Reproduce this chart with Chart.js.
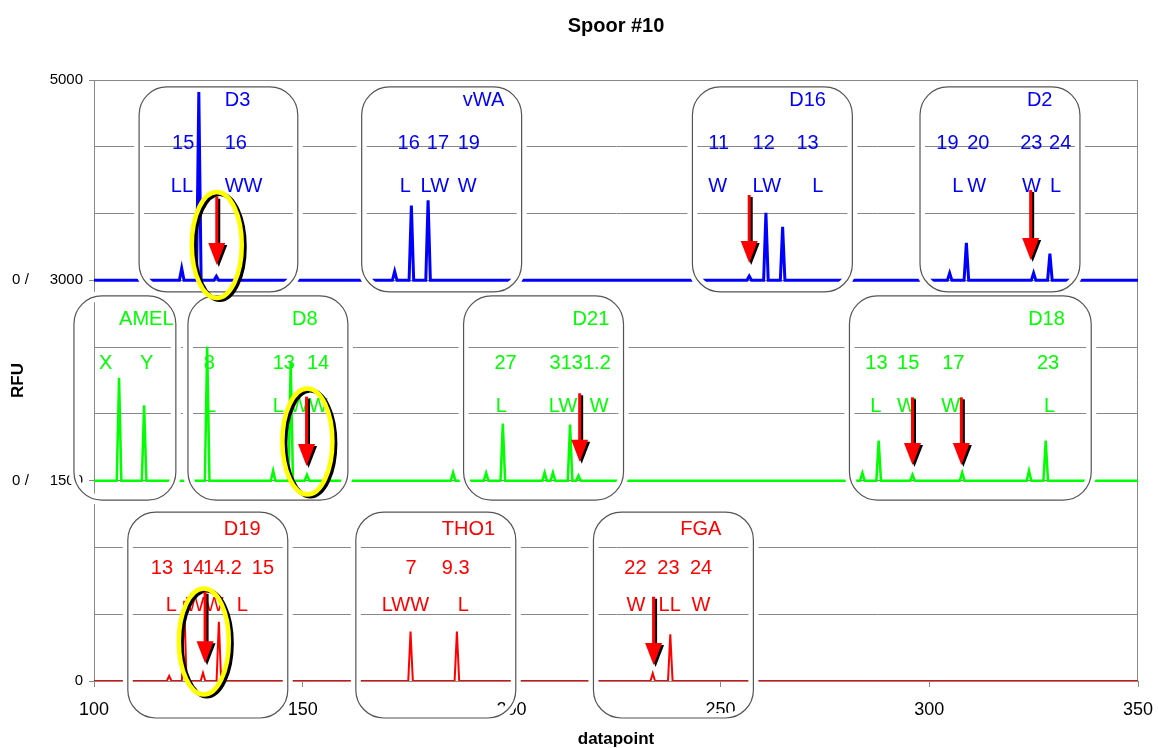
<!DOCTYPE html>
<html>
<head>
<meta charset="utf-8">
<title>Spoor #10</title>
<script src="https://cdn.jsdelivr.net/npm/chart.js@4.4.1/dist/chart.umd.min.js"></script>
<style>
  body { margin: 0; background: #fff; overflow: hidden; }
  #wrap { width: 1158px; height: 748px; }
</style>
</head>
<body>
<div id="wrap"><canvas id="spoor"></canvas></div>
<script>
// pieken per kleur: positie (datapoint) en hoogte (RFU binnen het paneel)
var bluePeakPos = [121.0, 125.1, 129.3, 172.0, 176.0, 180.0, 256.9, 260.9, 264.9, 304.9, 308.9, 325.0, 328.9];
var bluePeakRfu = [90, 1410, 30, 67, 560, 600, 32, 505, 400, 55, 280, 55, 200];

var greenPeakPos = [106.0, 112.0, 127.1, 142.9, 147.1, 151.0, 186.0, 193.9, 197.9, 207.9, 209.9, 214.0, 216.0, 284.0, 287.9, 296.0, 307.9, 323.9, 327.9];
var greenPeakRfu = [770, 565, 1005, 75, 893, 45, 60, 58, 427, 60, 60, 420, 38, 58, 300, 45, 60, 75, 300];

var redPeakPos = [118.0, 121.6, 126.1, 129.9, 175.8, 186.9, 233.8, 238.0];
var redPeakRfu = [38, 600, 60, 444, 370, 370, 58, 350];

// basislijn van elk paneel (blauw, groen, rood)
var panelBase = [3000, 1500, 0];
var dyeColors = ['#0000ff', '#00ff00', '#ff0000'];

// labels op de y-as
var yTickValues = [0, 1500, 3000, 4500];
var yTickLabels = ['0', '0 /     1500', '0 /     3000', '5000'];

// locus-kaders: [van, tot, paneel]
var lociBoxes = [
  [110.8, 148.8, 0], [164.1, 202.4, 0], [243.3, 281.6, 0], [297.8, 336.1, 0],
  [95.2, 119.6, 1], [122.5, 160.8, 1], [188.5, 226.8, 1], [280.9, 338.8, 1],
  [108.1, 146.4, 2], [162.7, 201.0, 2], [219.6, 257.9, 2]
];
var boxRows = [[4448, 2913], [2883, 1355], [1265, -277]];

// teksten: [paneel, regel (0 locus, 1 allelen, 2 letters), x, tekst]
var textRows = [[4350, 4028, 3699], [2710, 2381, 2052], [1131, 846, 569]];
var lociTexts = [
  [0, 0, 131.3, 'D3'], [0, 1, 118.7, '15'], [0, 1, 131.3, '16'], [0, 2, 118.4, 'LL'], [0, 2, 131.3, 'WW'],
  [0, 0, 188.3, 'vWA'], [0, 1, 172.7, '16'], [0, 1, 179.7, '17'], [0, 1, 187.1, '19'],
  [0, 2, 173.2, 'L'], [0, 2, 178.2, 'LW'], [0, 2, 187.1, 'W'],
  [0, 0, 266.5, 'D16'], [0, 1, 247.1, '11'], [0, 1, 257.7, '12'], [0, 1, 268.2, '13'],
  [0, 2, 247.1, 'W'], [0, 2, 257.7, 'LW'], [0, 2, 272.0, 'L'],
  [0, 0, 323.4, 'D2'], [0, 1, 301.7, '19'], [0, 1, 309.1, '20'], [0, 1, 321.8, '23'], [0, 1, 328.7, '24'],
  [0, 2, 305.5, 'L'], [0, 2, 309.1, 'W'], [0, 2, 322.2, 'W'], [0, 2, 328.9, 'L'],

  [1, 0, 106.0, 'AMEL'], [1, 1, 101.2, 'X'], [1, 1, 111.0, 'Y'],
  [1, 0, 147.4, 'D8'], [1, 1, 126.3, '8'], [1, 1, 142.8, '13'], [1, 1, 151.0, '14'],
  [1, 2, 126.6, 'L'], [1, 2, 142.8, 'L'], [1, 2, 146.9, 'WW'],
  [1, 0, 214.6, 'D21'], [1, 1, 195.9, '27'], [1, 1, 209.1, '3131.2'],
  [1, 2, 196.2, 'L'], [1, 2, 208.9, 'LW'], [1, 2, 218.7, 'W'],
  [1, 0, 323.7, 'D18'], [1, 1, 284.7, '13'], [1, 1, 292.3, '15'], [1, 1, 303.1, '17'], [1, 1, 325.8, '23'],
  [1, 2, 285.9, 'L'], [1, 2, 292.3, 'W'], [1, 2, 302.9, 'W'], [1, 2, 327.5, 'L'],

  [2, 0, 131.1, 'D19'], [2, 1, 113.6, '13'], [2, 1, 121.1, '14'], [2, 1, 126.1, '14.2'], [2, 1, 137.8, '15'],
  [2, 2, 117.2, 'L'], [2, 2, 122.0, 'WW'], [2, 2, 134.2, 'L'],
  [2, 0, 183.3, 'THO1'], [2, 1, 174.6, '7'], [2, 1, 183.3, '9.3'], [2, 2, 168.9, 'LWW'], [2, 2, 187.1, 'L'],
  [2, 0, 240.4, 'FGA'], [2, 1, 227.0, '22'], [2, 1, 234.9, '23'], [2, 1, 242.7, '24'],
  [2, 2, 227.5, 'W'], [2, 2, 235.2, 'LL'], [2, 2, 243.1, 'W']
];

// pijlen: [x, boven, punt] en ellipsen: [x, y]
var arrows = [
  [129.4, 3626, 3115], [256.9, 3639, 3130], [324.3, 3676, 3152],
  [150.9, 2129, 1610], [216.3, 2154, 1642], [296.0, 2124, 1617], [307.7, 2124, 1617],
  [126.6, 668, 132], [234.0, 631, 120]
];
var ellipses = [[129.4, 3265], [151.1, 1793], [126.3, 296]];

function buildTrace(pos, rfu, base) {
  var pts = [{x: 100, y: base}];
  for (var i = 0; i < pos.length; i++) {
    pts.push({x: pos[i] - 0.55, y: base});
    pts.push({x: pos[i], y: base + rfu[i]});
    pts.push({x: pos[i] + 0.55, y: base});
  }
  pts.push({x: 350, y: base});
  return pts;
}

function roundRectPath(ctx, x, y, w, h, r) {
  ctx.beginPath();
  ctx.moveTo(x + r, y);
  ctx.arcTo(x + w, y, x + w, y + h, r);
  ctx.arcTo(x + w, y + h, x, y + h, r);
  ctx.arcTo(x, y + h, x, y, r);
  ctx.arcTo(x, y, x + w, y, r);
  ctx.closePath();
}

function drawArrow(ctx, x, y1, y2, color, dx, dy) {
  ctx.strokeStyle = color;
  ctx.fillStyle = color;
  ctx.lineWidth = 3;
  ctx.beginPath();
  ctx.moveTo(x + dx, y1 + dy);
  ctx.lineTo(x + dx, y2 - 16 + dy);
  ctx.stroke();
  ctx.beginPath();
  ctx.moveTo(x - 8.5 + dx, y2 - 22 + dy);
  ctx.lineTo(x + 8.5 + dx, y2 - 22 + dy);
  ctx.lineTo(x + dx, y2 + dy);
  ctx.closePath();
  ctx.fill();
}

var frame = {
  id: 'frame',
  beforeDatasetsDraw: function(chart) {
    var a = chart.chartArea, ctx = chart.ctx;
    ctx.save();
    ctx.strokeStyle = '#888';
    ctx.lineWidth = 1;
    ctx.beginPath();
    ctx.moveTo(a.left, a.top + 0.5);
    ctx.lineTo(a.right - 0.5, a.top + 0.5);
    ctx.lineTo(a.right - 0.5, a.bottom);
    ctx.stroke();
    ctx.restore();
  }
};

var annotations = {
  id: 'annotations',
  afterDatasetsDraw: function(chart) {
    var ctx = chart.ctx, xs = chart.scales.x, ys = chart.scales.y;
    ctx.save();
    // kaders: eerst de witte rand, dan de grijze lijn
    var rects = lociBoxes.map(function(b) {
      var x1 = xs.getPixelForValue(b[0]), x2 = xs.getPixelForValue(b[1]);
      var y1 = ys.getPixelForValue(boxRows[b[2]][0]), y2 = ys.getPixelForValue(boxRows[b[2]][1]);
      return [x1, y1, x2 - x1, y2 - y1];
    });
    ctx.strokeStyle = '#fff';
    ctx.lineWidth = 10;
    rects.forEach(function(r) { roundRectPath(ctx, r[0], r[1], r[2], r[3], 28); ctx.stroke(); });
    ctx.strokeStyle = '#555';
    ctx.lineWidth = 1.2;
    rects.forEach(function(r) { roundRectPath(ctx, r[0], r[1], r[2], r[3], 28); ctx.stroke(); });

    // teksten
    ctx.font = '20px "Liberation Sans", Arial, sans-serif';
    ctx.textAlign = 'left';
    ctx.textBaseline = 'middle';
    lociTexts.forEach(function(t) {
      ctx.fillStyle = dyeColors[t[0]];
      ctx.fillText(t[3], xs.getPixelForValue(t[2]), ys.getPixelForValue(textRows[t[0]][t[1]]));
    });

    // ellipsen
    ellipses.forEach(function(e) {
      var cx = xs.getPixelForValue(e[0]), cy = ys.getPixelForValue(e[1]);
      ctx.lineWidth = 4;
      ctx.strokeStyle = '#000';
      ctx.beginPath(); ctx.ellipse(cx + 3, cy + 2, 25, 53, 0, 0, Math.PI * 2); ctx.stroke();
      ctx.lineWidth = 4.5;
      ctx.strokeStyle = '#ffff00';
      ctx.beginPath(); ctx.ellipse(cx, cy, 25, 53, 0, 0, Math.PI * 2); ctx.stroke();
    });

    // pijlen
    arrows.forEach(function(p) {
      var x = xs.getPixelForValue(p[0]), y1 = ys.getPixelForValue(p[1]), y2 = ys.getPixelForValue(p[2]);
      drawArrow(ctx, x, y1, y2, '#000', 2, 2);
      drawArrow(ctx, x, y1, y2, '#ff0000', 0, 0);
    });
    ctx.restore();
  }
};

Chart.defaults.font.family = '"Liberation Sans", Arial, sans-serif';
Chart.defaults.color = '#000';

var ctx = document.getElementById('spoor').getContext('2d');
var spoorGrafiek = new Chart(ctx, {
  type: 'line',
  data: {
    datasets: [
      { label: 'blauw', data: buildTrace(bluePeakPos, bluePeakRfu, panelBase[0]), borderColor: dyeColors[0], borderWidth: 3 },
      { label: 'groen', data: buildTrace(greenPeakPos, greenPeakRfu, panelBase[1]), borderColor: dyeColors[1], borderWidth: 2.5 },
      { label: 'rood', data: buildTrace(redPeakPos, redPeakRfu, panelBase[2]), borderColor: dyeColors[2], borderWidth: 2 }
    ]
  },
  options: {
    responsive: true,
    maintainAspectRatio: false,
    animation: false,
    layout: { padding: { left: 0, right: 20, top: 0, bottom: 0 } },
    elements: { point: { radius: 0 }, line: { tension: 0 } },
    plugins: {
      legend: { display: false },
      tooltip: { enabled: false },
      title: {
        display: true,
        text: 'Spoor #10',
        fullSize: false,
        font: { size: 20, weight: 'bold' },
        padding: { top: 14, bottom: 42 }
      }
    },
    scales: {
      x: {
        type: 'linear',
        min: 100,
        max: 350,
        afterFit: function(scale) {
          scale.height = 67;
          scale.paddingLeft = 0;
          scale.paddingRight = 0;
        },
        ticks: { stepSize: 50, font: { size: 18 }, padding: 12, maxRotation: 0 },
        grid: { drawOnChartArea: false, tickLength: 6, tickColor: '#888' },
        border: { color: '#888' },
        title: { display: true, text: 'datapoint', font: { size: 17, weight: 'bold', lineHeight: 1 }, padding: { top: 0, bottom: 0 } }
      },
      y: {
        min: 0,
        max: 4500,
        afterFit: function(scale) { scale.width = 94; },
        ticks: {
          stepSize: 500,
          autoSkip: false,
          font: { size: 15 },
          padding: 6,
          callback: function(v) {
            var i = yTickValues.indexOf(v);
            return i >= 0 ? yTickLabels[i] : '';
          }
        },
        grid: {
          color: '#888',
          tickLength: 5,
          tickColor: function(c) { return c.tick && yTickValues.indexOf(c.tick.value) >= 0 ? '#888' : 'rgba(0,0,0,0)'; }
        },
        border: { color: '#888' },
        title: { display: true, text: 'RFU', font: { size: 17, weight: 'bold', lineHeight: 1 }, padding: { top: 10, bottom: 0 } }
      }
    }
  },
  plugins: [frame, annotations]
});
</script>
</body>
</html>
